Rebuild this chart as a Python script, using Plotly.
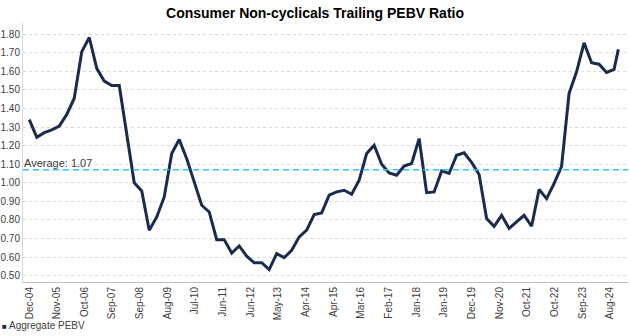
import plotly.graph_objects as go
import pandas as pd

title_text = "Consumer Non-cyclicals Trailing PEBV Ratio"
series_name = "Aggregate PEBV"
average_value = 1.07

# x tick labels as shown on the chart
tick_labels = ["Dec-04", "Nov-05", "Oct-06", "Sep-07", "Sep-08", "Aug-09", "Jul-10",
               "Jun-11", "Jun-12", "May-13", "Apr-14", "Apr-15", "Mar-16", "Feb-17",
               "Jan-18", "Jan-19", "Dec-19", "Nov-20", "Oct-21", "Oct-22", "Sep-23", "Aug-24"]

pebv = [1.34, 1.245, 1.27, 1.285, 1.305, 1.368, 1.455, 1.706, 1.782, 1.616,
        1.547, 1.523, 1.523, 1.26, 1.00, 0.956, 0.745, 0.816, 0.924, 1.157,
        1.233, 1.13, 1.00, 0.879, 0.843, 0.694, 0.694, 0.622, 0.66, 0.605,
        0.569, 0.57, 0.533, 0.619, 0.597, 0.637, 0.709, 0.745, 0.829, 0.838,
        0.933, 0.951, 0.96, 0.938, 1.014, 1.157, 1.202, 1.10, 1.053, 1.041,
        1.09, 1.104, 1.238, 0.947, 0.951, 1.064, 1.05, 1.148, 1.161, 1.11,
        1.045, 0.808, 0.766, 0.825, 0.754, 0.789, 0.825, 0.766, 0.964, 0.915,
        0.996, 1.088, 1.481, 1.597, 1.753, 1.646, 1.638, 1.594, 1.61, 1.718]

start = pd.Timestamp("2004-12-01")
obs_step_days = 93
tick_step_days = 343
dates = [start + pd.Timedelta(days=obs_step_days * i) for i in range(len(pebv) - 1)]
dates.append(dates[-1] + pd.Timedelta(days=53))
tick_vals = [start + pd.Timedelta(days=tick_step_days * k) for k in range(len(tick_labels))]

navy = "#1b2b4b"
grey_text = "#404040"
font_family = "Liberation Sans, Arial, sans-serif"

fig = go.Figure()
fig.add_trace(go.Scatter(
    x=dates, y=pebv, mode="lines", name=series_name,
    line=dict(color=navy, width=3), showlegend=False, hoverinfo="x+y"))

fig.add_hline(y=average_value, line=dict(color="#2ec4f5", width=1.6, dash="6px,4px"))
fig.add_annotation(
    x=0, xref="paper", y=average_value, yref="y", xanchor="left", yanchor="bottom",
    text=f"Average: {average_value:.2f}", showarrow=False,
    font=dict(family=font_family, size=11, color=grey_text), xshift=-1, yshift=-1)

# legend key (small navy square + series name)
fig.add_annotation(
    x=-23 / 605, xref="paper", y=(281.7 - 325) / 258.7, yref="paper",
    xanchor="left", yanchor="middle", showarrow=False,
    text=f"<span style='color:{navy};font-size:8px'>■</span> {series_name}",
    font=dict(family=font_family, size=10, color=grey_text))

x_min = dates[0] - pd.Timedelta(days=78)
x_max = dates[-1] + pd.Timedelta(days=120)

fig.update_layout(
    width=630, height=336,
    margin=dict(l=23, r=2, t=23, b=54, autoexpand=False),
    paper_bgcolor="white", plot_bgcolor="white",
    showlegend=False,
    title=dict(text=f"<b>{title_text}</b>", x=0.5, xref="container", xanchor="center",
               y=1 - 13 / 336, yref="container", yanchor="middle",
               font=dict(family=font_family, size=14, color="#000000")),
    font=dict(family=font_family, size=10, color=grey_text),
    xaxis=dict(type="date", range=[x_min, x_max], tickvals=tick_vals, ticktext=tick_labels,
               tickangle=-90, showgrid=False, showline=True, linecolor="#bfbfbf", linewidth=1,
               ticks="", tickfont=dict(family=font_family, size=10, color=grey_text), zeroline=False),
    yaxis=dict(range=[0.466, 1.86], dtick=0.1, tick0=0.5, tickformat=".2f",
               showgrid=True, gridcolor="#d9d9d9", griddash="dot", gridwidth=1,
               showline=True, linecolor="#d9d9d9", linewidth=1, ticks="", zeroline=False,
               tickfont=dict(family=font_family, size=10, color=grey_text)),
)

fig.write_html("out.html")
